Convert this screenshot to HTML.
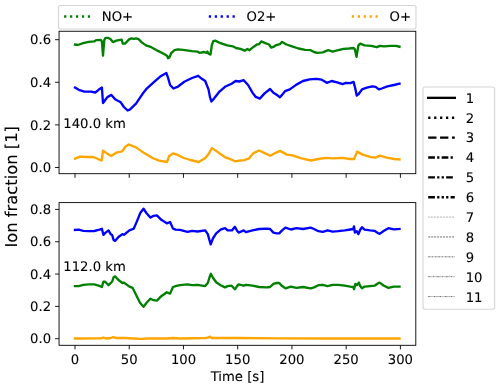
<!DOCTYPE html>
<html lang="en"><head><meta charset="utf-8"><title>Ion fraction</title>
<style>html,body{margin:0;padding:0;background:#fff;}body{width:500px;height:388px;overflow:hidden;}svg{display:block;}text{font-family:"DejaVu Sans", "Liberation Sans", sans-serif;fill:#000;font-size:13.2px;text-rendering:geometricPrecision;stroke:#000;stroke-width:0.1px;}.c{fill:none;stroke-width:2.35;stroke-linejoin:round;stroke-linecap:square;}.sp{fill:none;stroke:#000;stroke-width:0.9;stroke-linejoin:miter;}.tk{stroke:#000;stroke-width:0.9;}.lg{fill:#fff;fill-opacity:.8;stroke:#ccc;stroke-opacity:.8;stroke-width:1.15;}</style></head><body>
<svg width="500" height="388" viewBox="0 0 500 388">
<rect width="500" height="388" fill="#fff"/>
<g>
<polyline class="c" stroke="#008000" points="75,44.5 77.7,45 83.2,43.2 88.7,41.9 94.2,41.4 96.4,40.1 100.8,39.9 101.9,41.4 103,55.7 104.3,39.9 105.6,37.9 108.5,37.9 110.7,39.2 112.9,42.1 116.2,40.6 121.7,39.7 122.8,43.6 125,43.6 129.4,39.2 131.6,38.4 133.8,38.8 136,38.4 138.6,39.2 141.5,42.1 145.9,45.4 151.4,47.2 158,50.9 164.6,54.2 167.2,56 168.1,58.2 169.4,57.5 171.2,53.1 174.5,50.2 177.8,49.4 183.2,49.8 192,51.1 197.5,51.6 199.7,52.9 204.1,52 206.3,52.9 207.4,51.6 208.7,53.8 210.5,54.6 211.8,45.4 213.1,41.4 215.1,40.6 220.6,43.2 227.2,45.4 232.7,46.3 236,48 240.4,48.9 244.8,50.7 247.4,48.9 249.6,50.2 252.5,47.6 256.9,44.5 259.1,44.1 261.3,41.4 264.6,42.8 269,44.5 271.2,47.6 274.5,46.3 275.5,45.4 279.9,44.1 282.1,41.9 286.5,44.5 292,46.3 298.6,48.5 305.2,49.8 310.7,50.2 314,52 317.3,52.9 322.8,52.4 328.3,50.2 332.7,51.6 338.2,50.2 343.7,48.9 349.2,48.5 353.6,48 354.9,49.4 356.5,56.8 358.4,45.4 360.2,43.6 364.6,45.4 371.2,45.8 376.7,47.2 380,45.8 384,46.3 390.6,45.8 396.1,45.8 399.5,46.7"/>
<polyline class="c" stroke="#0000ff" points="75,87.6 78.8,89.8 84.3,91.6 90.9,91.6 95.3,92.5 98.6,89.8 101.9,87.6 103,103 105.2,100 107.4,97.1 111.4,94.9 115.1,99.3 120.6,102.2 123.9,107 127.6,110.5 129.8,109.6 136,103.7 142.6,93.8 147,88.3 153.6,82.4 160.2,76.6 166.4,73.1 167.9,77.3 170.1,85 173.4,88.5 176.7,87.2 177.7,86.8 184.3,81.7 192,78 198.2,75.8 201.9,78.8 205.2,81 208.5,89.4 210,97.1 211.4,101.5 214,98.6 219.5,91.6 225,86.8 231.6,83.7 235.6,81 239.3,81.5 243.7,80.2 248.1,85 252.5,92.7 255.8,96.9 259.8,98.6 264.6,93.4 270.1,89 273.4,92.7 277.8,95.6 279.9,97.3 282.1,94.9 285,91.2 289.8,89.4 296.4,84.6 303,81 309.6,79.3 316.2,78.8 321.7,79.7 326.8,82.8 331.6,81 337.1,82.4 342.6,84.1 345.9,82.8 350.3,83.2 353.6,81.9 355.4,89 356.7,95.6 358.9,93.8 362,89.4 366.8,87.6 372.3,86.3 375.6,86.8 378.9,89.4 381.8,88.5 387.3,86.3 393.9,85 399.5,83.7"/>
<polyline class="c" stroke="#ffa500" points="75,158.7 79.9,156.7 86.5,157 93.1,157 98,159 101.7,160.6 103,150.7 107,153.4 111.2,156 116.2,152.7 122.1,151.4 125.4,146.8 128.7,144.5 136,147.4 144.2,153.1 152.5,158 159.1,160.6 167,162 169,156.3 173,153.4 177.2,154.7 183.8,158 190.4,160 198.7,162 205.3,158 208.6,154 211.9,148.1 216.8,151.4 225.1,157.3 231.7,159.7 235,161.3 240.6,160.5 244.2,160.2 249.1,158.3 253.5,153.1 259.1,150.5 264.6,153.1 270.1,155.7 275.7,152.8 280.1,150.9 286.8,154.6 292.4,155.3 301.6,158.3 310.9,160.5 318.2,159 325.6,157.9 333.1,158.3 342.3,157.9 349.7,159 354.1,159 357.1,151.6 362.6,154.6 370.1,156.8 375.6,157.6 380,155.7 386.7,157.6 394.1,159 399.5,159.4"/>
<polyline class="c" stroke="#0000ff" points="75,229.9 78.8,229.7 83.2,230.8 88.7,231.2 94.2,231 98.6,229.9 101.9,228.8 103.4,234.8 105.6,232.6 108.5,230.4 110.7,234.1 112.2,235.2 113.6,240 115.1,240.9 118.4,237 122.4,234.1 123.9,234.8 129.4,230.4 133.8,228.6 137.1,220.9 140.4,212.8 143.5,208.8 146.6,213.2 150.3,217.6 153.6,215.8 156.9,215.4 161.3,219.8 166.8,223.3 170.1,222 173,228.6 175.6,229.7 179.9,229.9 187.6,231.9 192,230.8 197.5,231.5 205.2,230.4 207.8,234.1 209.6,240.7 210.7,244.4 212.9,238.5 216.2,233.4 220.6,229.7 225,228.2 227.6,230.4 232,230.4 234.9,226.8 237.1,230.8 238.6,232.6 243.7,230.4 245.9,232.1 252.5,230.4 259.1,229 266.8,228.6 270.1,229 273.4,232.6 276.7,233.4 279.2,233.4 282.1,230.4 285.4,227.7 290.9,229.5 296.4,228.2 303,229 310.7,227.7 314,229 318.4,231.2 322.8,231.9 327.6,230.4 332.7,231.7 338.2,231.2 344.8,230.4 350.3,229.5 353.2,229 354,226.4 354.9,232.6 356.9,231.2 358.4,234.1 360.2,229.7 362,227.3 364.6,229.7 370.1,230.4 374.5,230.8 377.8,233 379.6,233.9 384,230.8 388.4,228.2 393.9,229.3 399.5,229"/>
<polyline class="c" stroke="#008000" points="75,286.1 78.8,286.1 83.2,284.8 88.7,284.4 94.2,284.4 98.6,285.7 101.9,287 103.4,281.7 105.2,281.7 108.5,285.2 110.7,283 112.2,281.5 113.6,277.3 115.3,276.4 118.4,280 122.4,283 123.9,282.6 129.4,286.6 132.7,287.9 136,294.7 140,302.8 143.5,306.8 146.6,302.8 150.3,298.7 153.6,300.2 156.9,300.6 161.3,296.2 166.8,292.3 170.1,293.6 173,287 175.6,286.1 179.9,285.2 187.6,284.4 192,285.2 197.5,284.8 205.2,286.1 207.8,283 209.6,277.1 210.9,273.8 212.9,277.8 216.2,282.2 220.6,285.2 225,287.4 227.6,286.1 231.6,285.7 234.9,289.2 237.1,286.1 238.6,284.4 243.7,285.7 245.9,284.8 252.5,285.7 259.1,287 266.8,287.4 270.1,287 273.4,283.9 276.7,283 279.2,283 282.1,286.1 285.4,288.3 290.9,286.6 296.4,287.9 303,287 310.7,288.3 314,287.4 318.4,285.2 322.8,284.8 327.6,286.1 332.7,284.8 338.2,284.8 344.8,285.7 350.3,286.6 353.2,287 354,289.2 355.4,283.9 356.9,285.2 358.9,282.6 360.2,286.1 362,288.3 364.6,286.6 370.1,286.1 374.5,285.7 377.8,283.5 379.6,282.6 384,285.7 388.4,287.9 393.9,286.6 399.5,286.6"/>
<polyline class="c" stroke="#ffa500" points="75,338.5 83.2,338.5 92,338.3 100.8,338.3 103,337.6 106.3,338.5 110.7,338 113.1,337.2 116.2,338 125,338 133.8,338.5 140.4,338.9 149.2,338.5 158,338.5 166.8,338.5 173.4,338 180,338.5 205.2,338 207.8,337.6 210,336.7 211.8,338 236,338 280,338.3 325,338.5 380,338.5 399.5,338.5"/>
<rect class="sp" x="59.05" y="31.25" width="356.75" height="142.45"/>
<rect class="sp" x="59.05" y="202.6" width="356.75" height="142.7"/>
<line class="tk" x1="75" y1="173.7" x2="75" y2="177.8"/>
<line class="tk" x1="75" y1="345.3" x2="75" y2="349.4"/>
<text text-anchor="middle" x="75" y="363.73">0</text>
<line class="tk" x1="129.233" y1="173.7" x2="129.233" y2="177.8"/>
<line class="tk" x1="129.233" y1="345.3" x2="129.233" y2="349.4"/>
<text text-anchor="middle" x="129.233" y="363.73">50</text>
<line class="tk" x1="183.467" y1="173.7" x2="183.467" y2="177.8"/>
<line class="tk" x1="183.467" y1="345.3" x2="183.467" y2="349.4"/>
<text text-anchor="middle" x="183.467" y="363.73">100</text>
<line class="tk" x1="237.7" y1="173.7" x2="237.7" y2="177.8"/>
<line class="tk" x1="237.7" y1="345.3" x2="237.7" y2="349.4"/>
<text text-anchor="middle" x="237.7" y="363.73">150</text>
<line class="tk" x1="291.933" y1="173.7" x2="291.933" y2="177.8"/>
<line class="tk" x1="291.933" y1="345.3" x2="291.933" y2="349.4"/>
<text text-anchor="middle" x="291.933" y="363.73">200</text>
<line class="tk" x1="346.167" y1="173.7" x2="346.167" y2="177.8"/>
<line class="tk" x1="346.167" y1="345.3" x2="346.167" y2="349.4"/>
<text text-anchor="middle" x="346.167" y="363.73">250</text>
<line class="tk" x1="400.4" y1="173.7" x2="400.4" y2="177.8"/>
<line class="tk" x1="400.4" y1="345.3" x2="400.4" y2="349.4"/>
<text text-anchor="middle" x="400.4" y="363.73">300</text>
<line class="tk" x1="55.05" y1="167.5" x2="59.05" y2="167.5"/>
<text text-anchor="end" x="51.05" y="172.12">0.0</text>
<line class="tk" x1="55.05" y1="124.9" x2="59.05" y2="124.9"/>
<text text-anchor="end" x="51.05" y="129.52">0.2</text>
<line class="tk" x1="55.05" y1="82.3" x2="59.05" y2="82.3"/>
<text text-anchor="end" x="51.05" y="86.92">0.4</text>
<line class="tk" x1="55.05" y1="39.7" x2="59.05" y2="39.7"/>
<text text-anchor="end" x="51.05" y="44.32">0.6</text>
<line class="tk" x1="55.05" y1="338.7" x2="59.05" y2="338.7"/>
<text text-anchor="end" x="51.05" y="343.32">0.0</text>
<line class="tk" x1="55.05" y1="306.38" x2="59.05" y2="306.38"/>
<text text-anchor="end" x="51.05" y="311">0.2</text>
<line class="tk" x1="55.05" y1="274.06" x2="59.05" y2="274.06"/>
<text text-anchor="end" x="51.05" y="278.68">0.4</text>
<line class="tk" x1="55.05" y1="241.74" x2="59.05" y2="241.74"/>
<text text-anchor="end" x="51.05" y="246.36">0.6</text>
<line class="tk" x1="55.05" y1="209.42" x2="59.05" y2="209.42"/>
<text text-anchor="end" x="51.05" y="214.04">0.8</text>
<text x="63.3" y="127.9">140.0 km</text>
<text x="63.3" y="270.8">112.0 km</text>
<text text-anchor="middle" x="237.5" y="380.6">Time [s]</text>
<text text-anchor="middle" style="font-size:16.37px" transform="translate(16.9,186.8) scale(1,1) rotate(-90)">Ion fraction [1]</text>
<rect class="lg" x="58.5" y="5.5" width="357.5" height="23.5" rx="2.2" ry="2"/>
<line x1="64.1" y1="16.5" x2="90.7" y2="16.5" stroke="#008000" stroke-width="2.35" stroke-dasharray="2.24 3.696"/>
<text x="101.8" y="21.2">NO+</text>
<line x1="208.8" y1="16.5" x2="235.4" y2="16.5" stroke="#0000ff" stroke-width="2.35" stroke-dasharray="2.24 3.696"/>
<text x="246.5" y="21.2">O2+</text>
<line x1="351.8" y1="16.5" x2="378.4" y2="16.5" stroke="#ffa500" stroke-width="2.35" stroke-dasharray="2.24 3.696"/>
<text x="389.5" y="21.2">O+</text>
<rect class="lg" x="423.0" y="86.95" width="71.6" height="222.25" rx="2.2" ry="2"/>
<line x1="428.2" y1="97.85" x2="454.8" y2="97.85" stroke="#000" stroke-width="2.35" stroke-linecap="square"/>
<text x="465.7" y="102.69">1</text>
<line x1="428.2" y1="117.72" x2="454.8" y2="117.72" stroke="#000" stroke-width="2.35" stroke-dasharray="2.24 3.696"/>
<text x="465.7" y="122.59">2</text>
<line x1="428.2" y1="137.59" x2="454.8" y2="137.59" stroke="#000" stroke-width="2.35" stroke-dasharray="8.288 3.584"/>
<text x="465.7" y="142.49">3</text>
<line x1="428.2" y1="157.46" x2="454.8" y2="157.46" stroke="#000" stroke-width="2.35" stroke-dasharray="6.72 2.24 2.24 2.24"/>
<text x="465.7" y="162.39">4</text>
<line x1="428.2" y1="177.33" x2="454.8" y2="177.33" stroke="#000" stroke-width="2.35" stroke-dasharray="6.72 2.24 2.24 2.24 2.24 2.24"/>
<text x="465.7" y="182.29">5</text>
<line x1="428.2" y1="197.2" x2="454.8" y2="197.2" stroke="#000" stroke-width="2.35" stroke-dasharray="6.72 2.24 2.24 2.24 2.24 2.24 2.24 2.24"/>
<text x="465.7" y="202.19">6</text>
<line x1="428.2" y1="217.07" x2="454.8" y2="217.07" stroke="#000" stroke-width="0.56" stroke-dasharray="0.56 0.924"/>
<text x="465.7" y="222.09">7</text>
<line x1="428.2" y1="236.94" x2="454.8" y2="236.94" stroke="#000" stroke-width="0.56" stroke-dasharray="2.072 0.896"/>
<text x="465.7" y="241.99">8</text>
<line x1="428.2" y1="256.81" x2="454.8" y2="256.81" stroke="#000" stroke-width="0.56" stroke-dasharray="1.68 0.56 0.56 0.56"/>
<text x="465.7" y="261.89">9</text>
<line x1="428.2" y1="276.68" x2="454.8" y2="276.68" stroke="#000" stroke-width="0.56" stroke-dasharray="1.68 0.56 0.56 0.56 0.56 0.56"/>
<text x="465.7" y="281.79">10</text>
<line x1="428.2" y1="296.55" x2="454.8" y2="296.55" stroke="#000" stroke-width="0.56" stroke-dasharray="1.68 0.56 0.56 0.56 0.56 0.56 0.56 0.56"/>
<text x="465.7" y="301.69">11</text>
</g>
</svg></body></html>
